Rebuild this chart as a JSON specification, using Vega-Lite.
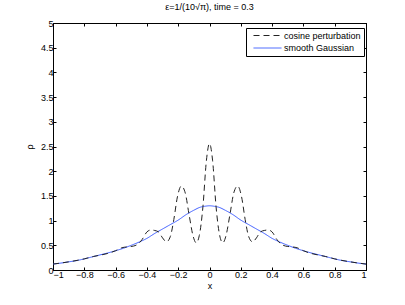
{
  "$schema": "https://vega.github.io/schema/vega-lite/v6.json",
  "width": 313,
  "height": 247,
  "autosize": {"type": "none"},
  "padding": {"left": 53, "top": 23, "right": 39, "bottom": 35},
  "title": {"text": "ε=1/(10√π), time = 0.3", "fontSize": 9, "fontWeight": "normal", "font": "Liberation Sans", "color": "#000", "offset": 7},
  "config": {
    "view": {"stroke": "#000", "strokeWidth": 1},
    "axis": {"grid": false, "domainColor": "#000", "tickColor": "#000", "labelColor": "#000", "titleColor": "#000", "labelFont": "Liberation Sans", "titleFont": "Liberation Sans", "labelFontSize": 9, "titleFontSize": 9, "titleFontWeight": "normal", "tickSize": -3, "domainWidth": 1, "tickWidth": 1},
    "legend": {"orient": "none", "legendX": 193, "legendY": 5, "strokeColor": "#000", "fillColor": "#fff", "padding": 3, "rowPadding": 2.5, "labelFont": "Liberation Sans", "labelFontSize": 9, "labelColor": "#000", "symbolType": "M0,0H8", "symbolSize": 49, "symbolStrokeWidth": 1, "labelOffset": 26, "title": null}
  },
  "data": {"values": [
    {"s": "smooth Gaussian", "x": -1, "y": 0.12},
    {"s": "smooth Gaussian", "x": -0.95, "y": 0.14},
    {"s": "smooth Gaussian", "x": -0.9, "y": 0.165},
    {"s": "smooth Gaussian", "x": -0.85, "y": 0.19},
    {"s": "smooth Gaussian", "x": -0.8, "y": 0.225},
    {"s": "smooth Gaussian", "x": -0.75, "y": 0.265},
    {"s": "smooth Gaussian", "x": -0.7, "y": 0.305},
    {"s": "smooth Gaussian", "x": -0.65, "y": 0.345},
    {"s": "smooth Gaussian", "x": -0.6, "y": 0.39},
    {"s": "smooth Gaussian", "x": -0.55, "y": 0.44},
    {"s": "smooth Gaussian", "x": -0.5, "y": 0.5},
    {"s": "smooth Gaussian", "x": -0.45, "y": 0.565},
    {"s": "smooth Gaussian", "x": -0.4, "y": 0.64},
    {"s": "smooth Gaussian", "x": -0.35, "y": 0.74},
    {"s": "smooth Gaussian", "x": -0.3, "y": 0.83},
    {"s": "smooth Gaussian", "x": -0.25, "y": 0.92},
    {"s": "smooth Gaussian", "x": -0.2, "y": 1.01},
    {"s": "smooth Gaussian", "x": -0.15, "y": 1.12},
    {"s": "smooth Gaussian", "x": -0.1, "y": 1.21},
    {"s": "smooth Gaussian", "x": -0.06, "y": 1.27},
    {"s": "smooth Gaussian", "x": -0.03, "y": 1.29},
    {"s": "smooth Gaussian", "x": 0, "y": 1.3},
    {"s": "smooth Gaussian", "x": 0.03, "y": 1.29},
    {"s": "smooth Gaussian", "x": 0.06, "y": 1.27},
    {"s": "smooth Gaussian", "x": 0.1, "y": 1.21},
    {"s": "smooth Gaussian", "x": 0.15, "y": 1.12},
    {"s": "smooth Gaussian", "x": 0.2, "y": 1.01},
    {"s": "smooth Gaussian", "x": 0.25, "y": 0.92},
    {"s": "smooth Gaussian", "x": 0.3, "y": 0.83},
    {"s": "smooth Gaussian", "x": 0.35, "y": 0.74},
    {"s": "smooth Gaussian", "x": 0.4, "y": 0.64},
    {"s": "smooth Gaussian", "x": 0.45, "y": 0.565},
    {"s": "smooth Gaussian", "x": 0.5, "y": 0.5},
    {"s": "smooth Gaussian", "x": 0.55, "y": 0.44},
    {"s": "smooth Gaussian", "x": 0.6, "y": 0.39},
    {"s": "smooth Gaussian", "x": 0.65, "y": 0.345},
    {"s": "smooth Gaussian", "x": 0.7, "y": 0.305},
    {"s": "smooth Gaussian", "x": 0.75, "y": 0.265},
    {"s": "smooth Gaussian", "x": 0.8, "y": 0.225},
    {"s": "smooth Gaussian", "x": 0.85, "y": 0.19},
    {"s": "smooth Gaussian", "x": 0.9, "y": 0.165},
    {"s": "smooth Gaussian", "x": 0.95, "y": 0.14},
    {"s": "smooth Gaussian", "x": 1, "y": 0.12},
    {"s": "cosine perturbation", "x": -1, "y": 0.12},
    {"s": "cosine perturbation", "x": -0.9, "y": 0.165},
    {"s": "cosine perturbation", "x": -0.8, "y": 0.225},
    {"s": "cosine perturbation", "x": -0.74, "y": 0.275},
    {"s": "cosine perturbation", "x": -0.7, "y": 0.3},
    {"s": "cosine perturbation", "x": -0.65, "y": 0.335},
    {"s": "cosine perturbation", "x": -0.6, "y": 0.39},
    {"s": "cosine perturbation", "x": -0.56, "y": 0.45},
    {"s": "cosine perturbation", "x": -0.52, "y": 0.47},
    {"s": "cosine perturbation", "x": -0.485, "y": 0.485},
    {"s": "cosine perturbation", "x": -0.455, "y": 0.53},
    {"s": "cosine perturbation", "x": -0.43, "y": 0.62},
    {"s": "cosine perturbation", "x": -0.4, "y": 0.77},
    {"s": "cosine perturbation", "x": -0.375, "y": 0.81},
    {"s": "cosine perturbation", "x": -0.35, "y": 0.8},
    {"s": "cosine perturbation", "x": -0.325, "y": 0.77},
    {"s": "cosine perturbation", "x": -0.3, "y": 0.65},
    {"s": "cosine perturbation", "x": -0.275, "y": 0.57},
    {"s": "cosine perturbation", "x": -0.25, "y": 0.68},
    {"s": "cosine perturbation", "x": -0.228, "y": 1.02},
    {"s": "cosine perturbation", "x": -0.205, "y": 1.48},
    {"s": "cosine perturbation", "x": -0.18, "y": 1.7},
    {"s": "cosine perturbation", "x": -0.155, "y": 1.56},
    {"s": "cosine perturbation", "x": -0.132, "y": 1.15},
    {"s": "cosine perturbation", "x": -0.105, "y": 0.69},
    {"s": "cosine perturbation", "x": -0.085, "y": 0.55},
    {"s": "cosine perturbation", "x": -0.065, "y": 0.7},
    {"s": "cosine perturbation", "x": -0.042, "y": 1.28},
    {"s": "cosine perturbation", "x": -0.02, "y": 2.21},
    {"s": "cosine perturbation", "x": 0, "y": 2.56},
    {"s": "cosine perturbation", "x": 0.02, "y": 2.21},
    {"s": "cosine perturbation", "x": 0.042, "y": 1.28},
    {"s": "cosine perturbation", "x": 0.065, "y": 0.7},
    {"s": "cosine perturbation", "x": 0.085, "y": 0.55},
    {"s": "cosine perturbation", "x": 0.105, "y": 0.69},
    {"s": "cosine perturbation", "x": 0.132, "y": 1.15},
    {"s": "cosine perturbation", "x": 0.155, "y": 1.56},
    {"s": "cosine perturbation", "x": 0.18, "y": 1.7},
    {"s": "cosine perturbation", "x": 0.205, "y": 1.48},
    {"s": "cosine perturbation", "x": 0.228, "y": 1.02},
    {"s": "cosine perturbation", "x": 0.25, "y": 0.68},
    {"s": "cosine perturbation", "x": 0.275, "y": 0.57},
    {"s": "cosine perturbation", "x": 0.3, "y": 0.65},
    {"s": "cosine perturbation", "x": 0.325, "y": 0.77},
    {"s": "cosine perturbation", "x": 0.35, "y": 0.8},
    {"s": "cosine perturbation", "x": 0.375, "y": 0.81},
    {"s": "cosine perturbation", "x": 0.4, "y": 0.77},
    {"s": "cosine perturbation", "x": 0.43, "y": 0.62},
    {"s": "cosine perturbation", "x": 0.455, "y": 0.53},
    {"s": "cosine perturbation", "x": 0.485, "y": 0.485},
    {"s": "cosine perturbation", "x": 0.52, "y": 0.47},
    {"s": "cosine perturbation", "x": 0.56, "y": 0.45},
    {"s": "cosine perturbation", "x": 0.6, "y": 0.39},
    {"s": "cosine perturbation", "x": 0.65, "y": 0.335},
    {"s": "cosine perturbation", "x": 0.7, "y": 0.3},
    {"s": "cosine perturbation", "x": 0.74, "y": 0.275},
    {"s": "cosine perturbation", "x": 0.8, "y": 0.225},
    {"s": "cosine perturbation", "x": 0.9, "y": 0.165},
    {"s": "cosine perturbation", "x": 1, "y": 0.12}
  ]},
  "layer": [
    {
      "mark": {"type": "line", "interpolate": "monotone", "strokeWidth": 1, "clip": true},
      "encoding": {
        "x": {"field": "x", "type": "quantitative", "scale": {"domain": [-1, 1], "nice": false},
              "axis": {"orient": "bottom", "title": "x", "values": [-1, -0.8, -0.6, -0.4, -0.2, 0, 0.2, 0.4, 0.6, 0.8, 1], "format": "~g", "labelPadding": 3, "titlePadding": 2}},
        "y": {"field": "y", "type": "quantitative", "scale": {"domain": [0, 5], "nice": false},
              "axis": {"orient": "left", "title": "ρ", "values": [0, 0.5, 1, 1.5, 2, 2.5, 3, 3.5, 4, 4.5, 5], "format": "~g", "labelPadding": 3, "titlePadding": 6}},
        "color": {"field": "s", "type": "nominal", "scale": {"domain": ["cosine perturbation", "smooth Gaussian"], "range": ["#222222", "#3b5bff"]}, "legend": {"title": null}},
        "strokeDash": {"field": "s", "type": "nominal", "scale": {"domain": ["cosine perturbation", "smooth Gaussian"], "range": [[6, 4], [1, 0]]}, "legend": {"title": null}}
      }
    },
    {
      "mark": {"type": "line", "opacity": 0},
      "encoding": {
        "x": {"field": "x", "type": "quantitative", "axis": {"orient": "top", "title": null, "labels": false, "values": [-1, -0.8, -0.6, -0.4, -0.2, 0, 0.2, 0.4, 0.6, 0.8, 1]}},
        "y": {"field": "y", "type": "quantitative", "axis": {"orient": "right", "title": null, "labels": false, "values": [0, 0.5, 1, 1.5, 2, 2.5, 3, 3.5, 4, 4.5, 5]}},
        "detail": {"field": "s"}
      }
    }
  ]
}
